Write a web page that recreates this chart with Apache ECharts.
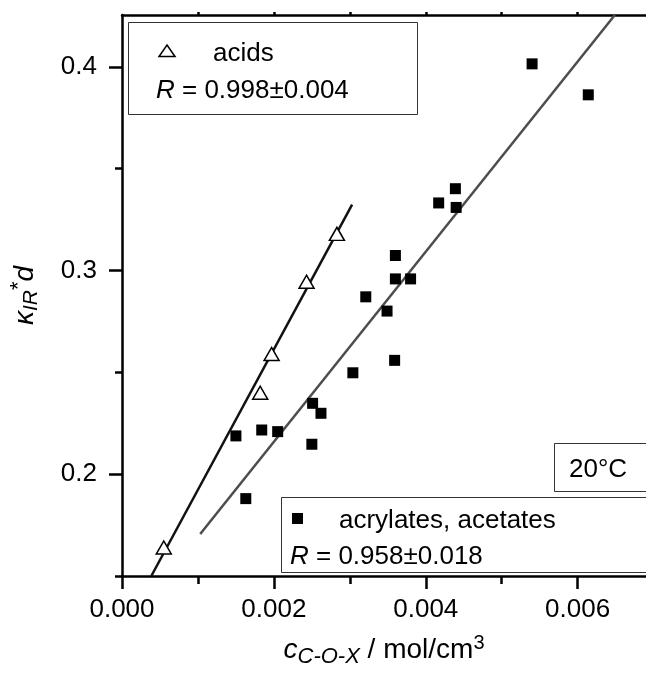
<!DOCTYPE html>
<html>
<head>
<meta charset="utf-8">
<title>kappa IR * d vs c C-O-X</title>
<script src="https://cdn.jsdelivr.net/npm/echarts@6/dist/echarts.min.js"></script>
<style>
  html, body { margin: 0; padding: 0; background: #fff; }
  #chart { width: 646px; height: 673px; }
</style>
</head>
<body>
<div id="chart"></div>
<script>
// acids (open triangles)
const acidsX = [0.00055, 0.00182, 0.00197, 0.00243, 0.00283]
const acidsY = [0.164, 0.240, 0.259, 0.2945, 0.318]

// acrylates, acetates (filled squares)
const acrylX = [0.0015, 0.00163, 0.00184, 0.00205, 0.0025, 0.00251, 0.00262, 0.00304, 0.00321, 0.00349,
  0.00359, 0.0036, 0.0036, 0.0038, 0.00417, 0.00439, 0.0044, 0.0054, 0.00614]
const acrylY = [0.2188, 0.188, 0.2217, 0.2209, 0.2147, 0.2348, 0.2299, 0.2498, 0.2871, 0.2801,
  0.2559, 0.2959, 0.3074, 0.2959, 0.3332, 0.3402, 0.331, 0.4015, 0.3863]

// linear fits (end points)
const acidsFitX = [0.000386, 0.00303]
const acidsFitY = [0.15, 0.3324]
const acrylFitX = [0.00103, 0.00649]
const acrylFitY = [0.1706, 0.4255]

// axes
const xMin = 0, xMax = 0.0069
const yMin = 0.15, yMax = 0.4255
const xMajor = [0, 0.002, 0.004, 0.006]
const xMinor = [0.001, 0.003, 0.005]
const xTop = [0.001, 0.002, 0.003, 0.004, 0.005, 0.006]
const yMajor = [0.2, 0.3, 0.4]
const yMinor = [0.15, 0.25, 0.35]

const acidsLabel = 'acids'
const acidsR = '0.998±0.004'
const acrylLabel = 'acrylates, acetates'
const acrylR = '0.958±0.018'
const tempLabel = '20°C'

const FONT = '"Liberation Sans", Arial, sans-serif'
const AXIS = { color: '#000', width: 2.5 }

const zip = (xs, ys) => xs.map((x, i) => [x, ys[i]])

const chart = echarts.init(document.getElementById('chart'), null, { renderer: 'canvas' })

const option = {
  animation: false,
  backgroundColor: '#fff',
  grid: { left: 122, right: 0, top: 15, bottom: 96, containLabel: false },
  xAxis: [
    {
      type: 'value', min: xMin, max: xMax, position: 'bottom',
      axisLine: { lineStyle: AXIS },
      axisTick: { inside: false, length: 13, lineStyle: AXIS, customValues: xMajor },
      axisLabel: {
        customValues: xMajor, margin: 21, color: '#000', fontSize: 26, fontFamily: FONT,
        formatter: v => v.toFixed(3)
      },
      splitLine: { show: false },
      name: '{i|c}{sub|C-O-X}{n| / mol/cm}{sup|3}',
      nameLocation: 'middle',
      nameGap: 56,
      nameTextStyle: {
        color: '#000', fontFamily: FONT, fontSize: 28,
        rich: {
          i: { fontSize: 28, fontStyle: 'italic', fontFamily: FONT },
          sub: { fontSize: 22, fontStyle: 'italic', fontFamily: FONT, padding: [14, 0, 0, 0] },
          n: { fontSize: 28, fontFamily: FONT },
          sup: { fontSize: 20, fontFamily: FONT, padding: [0, 0, 14, 0] }
        }
      }
    },
    {
      // minor ticks
      type: 'value', min: xMin, max: xMax, position: 'bottom',
      axisLine: { show: false },
      axisTick: { inside: false, length: 8, lineStyle: AXIS, customValues: xMinor },
      axisLabel: { show: false },
      splitLine: { show: false }
    },
    {
      // top frame
      type: 'value', min: xMin, max: xMax, position: 'top',
      axisLine: { lineStyle: AXIS },
      axisTick: { inside: false, length: 3, lineStyle: AXIS, customValues: xTop },
      axisLabel: { show: false },
      splitLine: { show: false }
    }
  ],
  yAxis: [
    {
      type: 'value', min: yMin, max: yMax, position: 'left',
      axisLine: { lineStyle: AXIS },
      axisTick: { inside: false, length: 13, lineStyle: AXIS, customValues: yMajor },
      axisLabel: {
        customValues: yMajor, margin: 25, color: '#000', fontSize: 26, fontFamily: FONT,
        formatter: v => v.toFixed(1)
      },
      splitLine: { show: false },
      name: '{i|κ}{sub|IR}{sup|*}{i|d}',
      nameLocation: 'middle',
      nameGap: 80,
      nameTextStyle: {
        color: '#000', fontFamily: FONT, fontSize: 28,
        rich: {
          i: { fontSize: 28, fontStyle: 'italic', fontFamily: FONT },
          sub: { fontSize: 21, fontStyle: 'italic', fontFamily: FONT, padding: [12, 0, 0, 0] },
          sup: { fontSize: 22, fontFamily: FONT, padding: [0, 0, 12, 0] }
        }
      }
    },
    {
      // minor ticks
      type: 'value', min: yMin, max: yMax, position: 'left',
      axisLine: { show: false },
      axisTick: { inside: false, length: 7, lineStyle: AXIS, customValues: yMinor },
      axisLabel: { show: false },
      splitLine: { show: false }
    }
  ],
  series: [
    {
      name: 'acids fit', type: 'line', data: zip(acidsFitX, acidsFitY),
      showSymbol: false, symbol: 'none', clip: true,
      lineStyle: { color: '#111', width: 2.5 }, z: 2
    },
    {
      name: 'acrylates fit', type: 'line', data: zip(acrylFitX, acrylFitY),
      showSymbol: false, symbol: 'none', clip: true,
      lineStyle: { color: '#4d4d4d', width: 2.5 }, z: 2
    },
    {
      name: acidsLabel, type: 'scatter', data: zip(acidsX, acidsY),
      symbol: 'triangle', symbolSize: [15, 13],
      itemStyle: { color: '#fff', borderColor: '#000', borderWidth: 1.5, opacity: 1 }, z: 3
    },
    {
      name: acrylLabel, type: 'scatter', data: zip(acrylX, acrylY),
      symbol: 'rect', symbolSize: 11,
      itemStyle: { color: '#000', opacity: 1 }, z: 3
    }
  ],
  graphic: [
    // legend box: acids
    { type: 'rect', z: 100, shape: { x: 128.5, y: 22.5, width: 289, height: 92 },
      style: { fill: '#fff', stroke: '#333', lineWidth: 1 } },
    { type: 'polygon', z: 101, shape: { points: [[167, 45], [175, 56.5], [159, 56.5]] },
      style: { fill: '#fff', stroke: '#000', lineWidth: 1.5 } },
    { type: 'text', z: 101, x: 213, y: 53.5,
      style: { text: acidsLabel, fill: '#000', fontSize: 26, fontFamily: FONT, verticalAlign: 'middle' } },
    { type: 'text', z: 101, x: 156, y: 90.5,
      style: { text: '{i|R} = ' + acidsR, fill: '#000', fontSize: 26, fontFamily: FONT, verticalAlign: 'middle',
        rich: { i: { fontStyle: 'italic', fontSize: 26, fontFamily: FONT } } } },

    // legend box: acrylates, acetates
    { type: 'rect', z: 100, shape: { x: 281.5, y: 497.5, width: 400, height: 75 },
      style: { fill: '#fff', stroke: '#333', lineWidth: 1 } },
    { type: 'rect', z: 101, shape: { x: 292, y: 513, width: 11, height: 11 },
      style: { fill: '#000' } },
    { type: 'text', z: 101, x: 339, y: 520.5,
      style: { text: acrylLabel, fill: '#000', fontSize: 26, fontFamily: FONT, verticalAlign: 'middle' } },
    { type: 'text', z: 101, x: 290, y: 557,
      style: { text: '{i|R} = ' + acrylR, fill: '#000', fontSize: 26, fontFamily: FONT, verticalAlign: 'middle',
        rich: { i: { fontStyle: 'italic', fontSize: 26, fontFamily: FONT } } } },

    // temperature box
    { type: 'rect', z: 100, shape: { x: 554.5, y: 443.5, width: 120, height: 48 },
      style: { fill: '#fff', stroke: '#333', lineWidth: 1 } },
    { type: 'text', z: 101, x: 569, y: 470,
      style: { text: tempLabel, fill: '#000', fontSize: 26, fontFamily: FONT, verticalAlign: 'middle' } }
  ]
}

chart.setOption(option)
</script>
</body>
</html>
